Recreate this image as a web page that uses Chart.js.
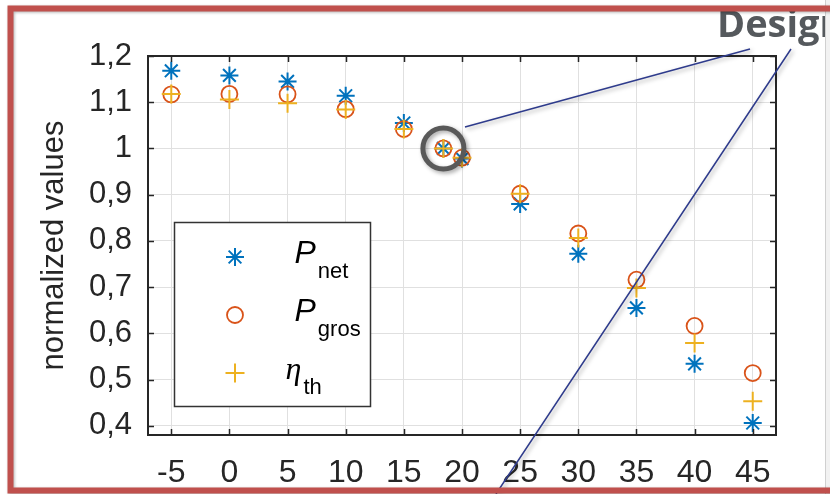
<!DOCTYPE html>
<html lang="en">
  <head>
    <meta charset="UTF-8" />
    <title>Normalized values</title>
    <script src="https://cdn.jsdelivr.net/npm/chart.js"></script>
    <style>
      body { margin: 0; background: #ffffff; }
      .chart-container { position: relative; width: 830px; height: 494px; }
    </style>
  </head>
  <body>
    <div class="chart-container">
      <canvas id="scatterChart"></canvas>
    </div>

    <script>
      // ambient temperature steps (18.4 is the design point)
      var xValues = [-5, 0, 5, 10, 15, 18.4, 20, 25, 30, 35, 40, 45];
      var pNet = [1.168, 1.158, 1.145, 1.114, 1.055, 1.0, 0.978, 0.88, 0.772, 0.655, 0.534, 0.406];
      var pGros = [1.117, 1.118, 1.117, 1.085, 1.042, 1.0, 0.98, 0.902, 0.816, 0.716, 0.616, 0.514];
      var etaTh = [1.118, 1.106, 1.098, 1.084, 1.042, 1.0, 0.98, 0.902, 0.806, 0.698, 0.579, 0.453];
      var xTicks = [-5, 0, 5, 10, 15, 20, 25, 30, 35, 40, 45];
      var yTicks = [0.4, 0.5, 0.6, 0.7, 0.8, 0.9, 1.0, 1.1, 1.2];
      var designIndex = 5;

      var axisColor = "#262626";
      var fontFamily = "'Liberation Sans', Arial, sans-serif";

      function toPoints(values) {
        return xValues.map(function (x, i) {
          return { x: x, y: values[i] };
        });
      }

      var styles = [
        { pointStyle: "star", radius: 9, color: "#0072BD", width: 2 },
        { pointStyle: "circle", radius: 8, color: "#D95319", width: 1.8 },
        { pointStyle: "cross", radius: 9.5, color: "#EDB120", width: 2 },
      ];

      // MATLAB style box, inward ticks, legend and slide decorations
      var decorPlugin = {
        id: "decor",
        beforeDraw: function (chart) {
          var ctx = chart.ctx;
          ctx.save();
          ctx.fillStyle = "#ffffff";
          ctx.fillRect(0, 0, chart.width, chart.height);
          ctx.restore();
        },
        afterDatasetsDraw: function (chart) {
          var ctx = chart.ctx;
          var a = chart.chartArea;
          var xs = chart.scales.x;
          var ys = chart.scales.y;
          ctx.save();

          // box
          ctx.strokeStyle = axisColor;
          ctx.lineWidth = 2;
          ctx.strokeRect(a.left, a.top, a.right - a.left, a.bottom - a.top);

          // inward ticks
          ctx.lineWidth = 1.5;
          ctx.beginPath();
          xTicks.forEach(function (v) {
            var px = Math.round(xs.getPixelForValue(v)) + 0.5;
            ctx.moveTo(px, a.bottom);
            ctx.lineTo(px, a.bottom - 6);
            ctx.moveTo(px, a.top);
            ctx.lineTo(px, a.top + 6);
          });
          yTicks.forEach(function (v) {
            var py = Math.round(ys.getPixelForValue(v)) + 0.5;
            ctx.moveTo(a.left, py);
            ctx.lineTo(a.left + 6, py);
            ctx.moveTo(a.right, py);
            ctx.lineTo(a.right - 6, py);
          });
          ctx.stroke();

          // legend
          var lx = 174.5, ly = 222.5, lw = 196, lh = 184;
          ctx.fillStyle = "#ffffff";
          ctx.fillRect(lx, ly, lw, lh);
          ctx.strokeStyle = "#333333";
          ctx.lineWidth = 1.5;
          ctx.strokeRect(lx, ly, lw, lh);

          var rows = [
            { main: "P", sub: "net", mainFont: "italic 32px " + fontFamily },
            { main: "P", sub: "gros", mainFont: "italic 32px " + fontFamily },
            { main: "\u03B7", sub: "th", mainFont: "italic 32px 'Liberation Serif', serif" },
          ];
          rows.forEach(function (row, i) {
            var cy = ly + 34.5 + i * 58;
            var s = styles[i];
            ctx.strokeStyle = s.color;
            ctx.fillStyle = "rgba(0,0,0,0)";
            ctx.lineWidth = s.width;
            Chart.helpers.drawPoint(ctx, { pointStyle: s.pointStyle, radius: s.radius, rotation: 0, borderWidth: s.width }, lx + 60.5, cy);
            ctx.fillStyle = "#000000";
            ctx.textBaseline = "alphabetic";
            ctx.textAlign = "left";
            ctx.font = row.mainFont;
            var mx = i === 2 ? lx + 111 : lx + 120;
            ctx.fillText(row.main, mx, cy + 6);
            var mw = ctx.measureText(row.main).width;
            ctx.font = "22px " + fontFamily;
            ctx.fillText(row.sub, mx + mw + 2, cy + 21);
          });

          ctx.restore();
        },
        afterDraw: function (chart) {
          var ctx = chart.ctx;
          var xs = chart.scales.x;
          var ys = chart.scales.y;
          ctx.save();

          // slide edge on the right
          ctx.fillStyle = "#f2f2f2";
          ctx.fillRect(826, 0, 4, chart.height);
          ctx.fillStyle = "#d0d0d0";
          ctx.fillRect(825, 0, 1, chart.height);

          // design point callout
          ctx.shadowColor = "rgba(0,0,0,0.35)";
          ctx.shadowBlur = 4;
          ctx.shadowOffsetX = 2;
          ctx.shadowOffsetY = 2;
          var cx = xs.getPixelForValue(xValues[designIndex]);
          var cy = ys.getPixelForValue(pGros[designIndex]);
          ctx.strokeStyle = "#595959";
          ctx.lineWidth = 5;
          ctx.beginPath();
          ctx.arc(cx, cy, 20.5, 0, Math.PI * 2);
          ctx.stroke();

          ctx.strokeStyle = "#2E3B8C";
          ctx.lineWidth = 1.5;
          ctx.beginPath();
          ctx.moveTo(465, 127);
          ctx.lineTo(750, 49);
          ctx.moveTo(791, 49);
          ctx.lineTo(496, 494);
          ctx.stroke();

          // title text cut by slide edge
          ctx.shadowColor = "rgba(0,0,0,0)";
          ctx.beginPath();
          ctx.rect(0, 0, 825, chart.height);
          ctx.clip();
          ctx.fillStyle = "#55595D";
          ctx.font = "bold 38px 'Open Sans', sans-serif";
          ctx.textBaseline = "alphabetic";
          ctx.fillText("Design", 717, 37);
          ctx.restore();

          // red frame
          ctx.save();
          ctx.shadowColor = "rgba(0,0,0,0.3)";
          ctx.shadowBlur = 3;
          ctx.shadowOffsetX = 1;
          ctx.shadowOffsetY = 1;
          ctx.strokeStyle = "#C0504D";
          ctx.lineWidth = 6;
          ctx.strokeRect(10.5, 8.5, 860, 482);
          ctx.restore();
        },
      };

      document.addEventListener("DOMContentLoaded", function () {
        var ctx = document.getElementById("scatterChart").getContext("2d");
        var datasets = [
          { label: "P_net", data: toPoints(pNet), order: 3 },
          { label: "P_gros", data: toPoints(pGros), order: 2 },
          { label: "eta_th", data: toPoints(etaTh), order: 1 },
        ].map(function (ds, i) {
          var s = styles[i];
          ds.pointStyle = s.pointStyle;
          ds.pointRadius = s.radius;
          ds.pointBorderWidth = s.width;
          ds.pointBorderColor = s.color;
          ds.pointBackgroundColor = "rgba(0,0,0,0)";
          ds.showLine = false;
          return ds;
        });

        new Chart(ctx, {
          type: "scatter",
          data: { datasets: datasets },
          options: {
            responsive: true,
            maintainAspectRatio: false,
            animation: false,
            layout: { padding: { top: 56, right: 54, left: 0, bottom: 0 } },
            plugins: { legend: { display: false }, tooltip: { enabled: false } },
            scales: {
              x: {
                type: "linear",
                min: -7,
                max: 47,
                afterBuildTicks: function (scale) {
                  scale.ticks = xTicks.map(function (v) { return { value: v }; });
                },
                afterFit: function (scale) { scale.height = 59; },
                grid: { color: "#e0e0e0", lineWidth: 1, drawTicks: false },
                border: { display: false },
                ticks: {
                  color: axisColor,
                  padding: 19,
                  maxRotation: 0,
                  font: { family: fontFamily, size: 32 },
                },
              },
              y: {
                type: "linear",
                min: 0.38,
                max: 1.2,
                afterBuildTicks: function (scale) {
                  scale.ticks = yTicks.map(function (v) { return { value: v }; });
                },
                afterFit: function (scale) { scale.width = 148; },
                grid: { color: "#e0e0e0", lineWidth: 1, drawTicks: false },
                border: { display: false },
                title: {
                  display: true,
                  text: "normalized values",
                  color: axisColor,
                  font: { family: fontFamily, size: 31 },
                  padding: { top: 36, bottom: 0 },
                },
                ticks: {
                  color: axisColor,
                  padding: 16,
                  font: { family: fontFamily, size: 31 },
                  callback: function (v) {
                    return String(Math.round(v * 10) / 10).replace(".", ",");
                  },
                },
              },
            },
          },
          plugins: [decorPlugin],
        });
      });
    </script>
  </body>
</html>
